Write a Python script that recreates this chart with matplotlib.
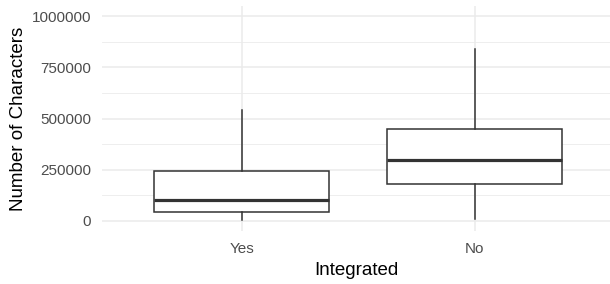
import matplotlib
matplotlib.use("Agg")
import matplotlib.pyplot as plt
from matplotlib.ticker import MultipleLocator

categories = ["Yes", "No"]
whislo = [5000, 8000]
q1 = [42000, 182000]
med = [101000, 298000]
q3 = [245000, 447000]
whishi = [541000, 839000]
yticks = [0, 250000, 500000, 750000, 1000000]
ytick_labels = ["0", "250000", "500000", "750000", "1000000"]

plt.rcParams['font.family'] = ['Liberation Sans', 'DejaVu Sans']

fig = plt.figure(figsize=(6.10, 2.84), dpi=100)
W, H = 610, 284
left_px, right_px, top_px, bot_px = 102, 610, 6, 231
ax = fig.add_axes([left_px / W, (H - bot_px) / H, (right_px - left_px) / W, (bot_px - top_px) / H])

stats = []
for i, c in enumerate(categories):
    stats.append(dict(label=c, whislo=whislo[i], q1=q1[i], med=med[i], q3=q3[i], whishi=whishi[i], fliers=[]))

positions = list(range(1, len(categories) + 1))
ax.bxp(stats, positions=positions, widths=0.75, patch_artist=True, showcaps=False,
       boxprops=dict(facecolor="white", edgecolor="#333333", linewidth=1.1),
       whiskerprops=dict(color="#333333", linewidth=1.1),
       medianprops=dict(color="#333333", linewidth=2.3, solid_capstyle="butt"),
       zorder=3)

ax.set_xlim(0.4, 0.4 + (right_px - left_px) / 233.0)
ax.set_ylim(-50000, 1050000)
ax.set_xticks(positions)
ax.set_xticklabels(categories)
ax.set_yticks(yticks)
ax.set_yticklabels(ytick_labels)
ax.yaxis.set_minor_locator(MultipleLocator(125000))

for s in ax.spines.values():
    s.set_visible(False)
ax.tick_params(axis="both", which="both", length=0, labelsize=11, labelcolor="#4D4D4D")
ax.tick_params(axis="y", pad=8)
ax.tick_params(axis="x", pad=8)
ax.grid(True, which="major", color="#EBEBEB", linewidth=1.1, zorder=0)
ax.grid(True, which="minor", axis="y", color="#EBEBEB", linewidth=0.6, zorder=0)
ax.set_axisbelow(True)

ax.set_xlabel("Integrated", fontsize=13.5, color="black", labelpad=4)
ax.set_ylabel("Number of Characters", fontsize=13.5, color="black", labelpad=3)

fig.savefig("out.png", dpi=100)
